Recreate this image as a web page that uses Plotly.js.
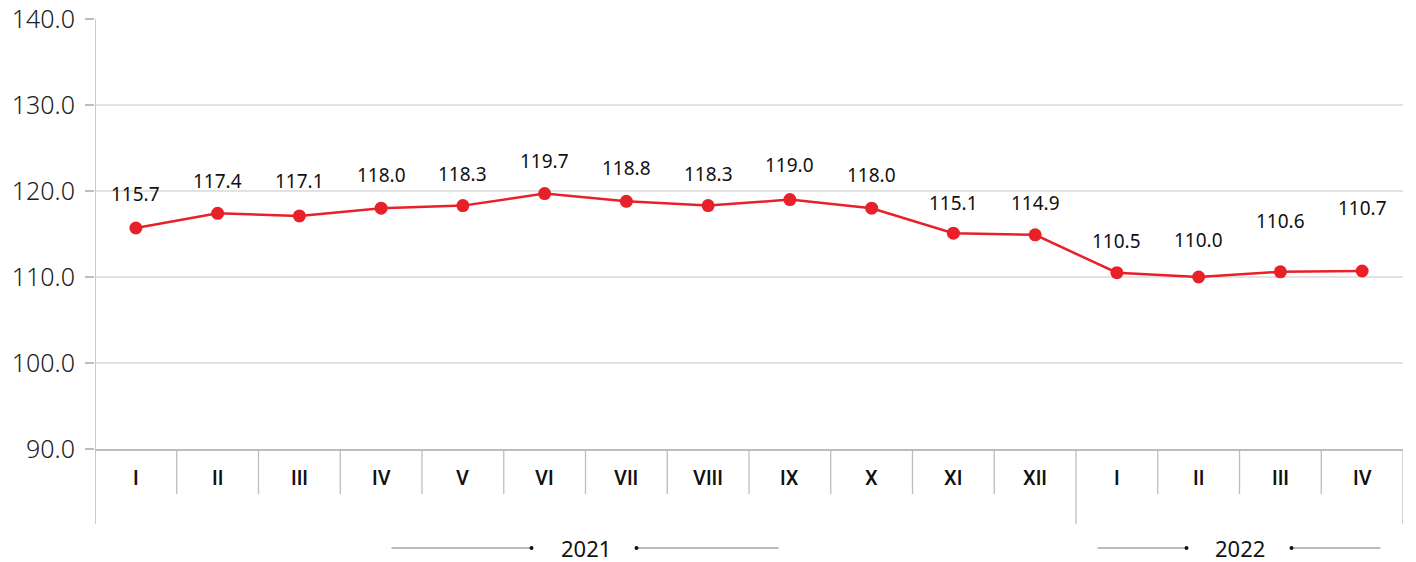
<!DOCTYPE html>
<html><head><meta charset="utf-8">
<script src="https://cdn.plot.ly/plotly-3.0.1.min.js"></script>
<style>html,body{margin:0;padding:0;background:#fff}#c{width:1416px;height:562px}</style>
</head><body><div id="c"></div>
<script>
const months = ["I","II","III","IV","V","VI","VII","VIII","IX","X","XI","XII","I","II","III","IV"];
const years = ["2021","2022"];
const yearCounts = [12, 4];
const values = [115.7,117.4,117.1,118.0,118.3,119.7,118.8,118.3,119.0,118.0,115.1,114.9,110.5,110.0,110.6,110.7];
const labelShift = [34,32,35,33,32,33,33,32,35,33,30,32,32,37,51,63];

const FONT = "Noto Sans";
const MFONT = "Roboto";
const W = 1416, L = 95, R = 13, T = 19, B = 113;
const plotW = W - L - R, plotH = 562 - T - B;
const n = months.length;
const pxPerCat = plotW / n;
const px2x = p => p / pxPerCat;
const py2p = p => p / plotH;

const x = months.map((_, i) => i);
const shapes = [], annotations = [];

values.forEach((v, i) => annotations.push({
  x: i, y: v, xref: 'x', yref: 'y', text: v.toFixed(1), showarrow: false,
  yshift: labelShift[i], font: {family: FONT, size: 19, color: '#111'}
}));
months.forEach((m, i) => {
  annotations.push({x: i, y: 0, xref: 'x', yref: 'paper', yanchor: 'middle', yshift: -29,
    text: m, showarrow: false, font: {family: MFONT, size: 20, color: '#111', weight: 500}});
});
let start = 0;
const bounds = [0];
yearCounts.forEach(c => { start += c; bounds.push(start); });
for (let i = 1; i < n; i++) {
  const isYear = bounds.includes(i);
  shapes.push({type: 'line', xref: 'x', yref: 'paper', x0: i - 0.5, x1: i - 0.5, y0: 0,
    y1: -py2p(isYear ? 75 : 45), line: {color: '#bdbdbd', width: 1.3}});
}
shapes.push({type: 'line', xref: 'x', yref: 'paper', x0: n - 0.5, x1: n - 0.5, y0: 0, y1: -py2p(75), line: {color: '#bdbdbd', width: 1.3}});
shapes.push({type: 'line', xref: 'x', yref: 'paper', x0: -0.5, x1: -0.5, y0: 1, y1: -py2p(75), line: {color: '#bdbdbd', width: 1.5}});

const deco = [[194, 54, 51, 193], [142, 53, 52, 141]];
years.forEach((yr, k) => {
  const c = (bounds[k] + bounds[k + 1] - 1) / 2;
  const yy = -py2p(99);
  const d = deco[k];
  annotations.push({x: c, y: yy, xref: 'x', yref: 'paper', yanchor: 'middle', text: yr, showarrow: false,
    font: {family: FONT, size: 22, color: '#111'}});
  shapes.push({type: 'line', xref: 'x', yref: 'paper', x0: c - px2x(d[0]), x1: c - px2x(d[1]), y0: yy, y1: yy, line: {color: '#777', width: 1.2}});
  shapes.push({type: 'line', xref: 'x', yref: 'paper', x0: c + px2x(d[2]), x1: c + px2x(d[3]), y0: yy, y1: yy, line: {color: '#777', width: 1.2}});
  [c - px2x(d[1]), c + px2x(d[2])].forEach(xx => shapes.push({type: 'circle', xref: 'x', yref: 'paper', xsizemode: 'pixel', ysizemode: 'pixel',
    xanchor: xx, yanchor: yy, x0: -2, x1: 2, y0: -2, y1: 2, fillcolor: '#111', line: {width: 0}}));
});

const trace = {x: x, y: values, type: 'scatter', mode: 'lines+markers',
  line: {color: '#e8202a', width: 2.5}, marker: {color: '#e8202a', size: 13}, hoverinfo: 'none', cliponaxis: false};

const layout = {
  width: W, height: 562, margin: {l: L, r: R, t: T, b: B},
  paper_bgcolor: '#fff', plot_bgcolor: '#fff', showlegend: false,
  xaxis: {range: [-0.5, n - 0.5], showticklabels: false, ticks: '', showgrid: false, zeroline: false,
    showline: true, linecolor: '#bdbdbd', linewidth: 1.5, fixedrange: true},
  yaxis: {range: [90, 140], dtick: 10, tickformat: '.1f', showgrid: true, gridcolor: '#e3e3e3', gridwidth: 1.3,
    zeroline: false, showline: false, ticks: 'outside', ticklen: 9, tickcolor: '#bdbdbd', tickwidth: 1.3,
    tickfont: {family: FONT, size: 25, color: '#222', weight: 300}, ticklabelstandoff: 5, fixedrange: true},
  shapes: shapes, annotations: annotations
};
Plotly.newPlot('c', [trace], layout, {displayModeBar: false, staticPlot: true});
</script></body></html>
